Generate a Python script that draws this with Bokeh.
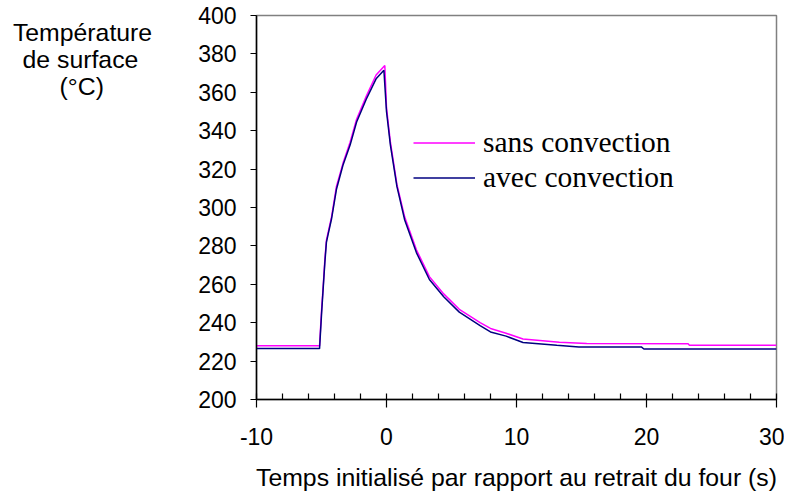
from bokeh.plotting import figure
from bokeh.models import Range1d, FixedTicker, Legend, LegendItem
from bokeh.embed import file_html
from bokeh.resources import INLINE

# --- data ---
sans_t = [-10, -5.15, -5.0, -4.87, -4.74, -4.62, -4.49, -4.23, -3.85, -3.35, -2.8, -2.3, -1.55, -0.8,
          -0.13, 0.0, 0.3, 0.8, 1.4, 2.3, 3.3, 4.4, 5.6, 7.2, 8.0, 9.2, 10.5, 13.3, 15.4, 23.2, 23.3, 30]
sans_T = [228, 228, 246, 259, 273, 283, 287, 295, 311, 323, 334, 346, 358, 369,
          374, 352, 334, 312, 295, 278, 264, 255, 247, 240, 237, 234.5, 231.5, 229.8, 229.2, 229, 228.3, 228.3]

avec_t = [-10, -5.15, -5.0, -4.87, -4.74, -4.62, -4.49, -4.23, -3.85, -3.35, -2.8, -2.3, -1.55, -0.8,
          -0.2, 0.0, 0.3, 0.8, 1.4, 2.3, 3.3, 4.4, 5.6, 7.2, 8.0, 9.2, 10.5, 13.1, 14.8, 19.6, 19.8, 30]
avec_T = [226.5, 226.5, 244, 258, 271.5, 282, 286, 294, 309.5, 322, 332.5, 344.5, 356.5, 367,
          371.5, 350, 332.5, 311, 293.5, 276.5, 262.5, 253.5, 245.5, 238.5, 235.2, 233, 229.7, 228.3, 227.4, 227.4, 226.3, 226.3]

series_names = ["sans convection", "avec convection"]
series_colors = ["#FF00FF", "#000080"]

x_ticks = [-10, 0, 10, 20, 30]
x_tick_labels = ["-10", "0", "10", "20", "30"]
x_minor = [-8, -6, -4, -2, 2, 4, 6, 8, 12, 14, 16, 18, 22, 24, 26, 28]
y_ticks = list(range(200, 401, 20))
NB = "\u00a0"
y_title_lines = ["Température", "de surface" + NB * 2, "(°C)" + NB * 7]
# the axis label block is centred on the axis: pad with blank lines below so the text sits at the top
y_title = "\n".join(y_title_lines + [NB] * 11)
x_title = "Temps initialisé par rapport au retrait du four (s)"

SANS_FONT = "Liberation Sans"
SERIF_FONT = "Liberation Serif"
FS_TICK = "23px"
FS_TITLE = "24.8px"

p = figure(frame_width=520, frame_height=384, output_backend="svg", toolbar_location=None,
           x_range=Range1d(-10, 30), y_range=Range1d(200, 400),
           min_border_left=256, min_border_top=15, min_border_right=8, min_border_bottom=88)
p.background_fill_color = "white"
p.border_fill_color = "white"
p.outline_line_color = "#808080"
p.outline_line_width = 1.5
p.xgrid.visible = False
p.ygrid.visible = False

r1 = p.line(sans_t, sans_T, line_color=series_colors[0], line_width=1.5)
r2 = p.line(avec_t, avec_T, line_color=series_colors[1], line_width=1.5)

# x axis
xa = p.xaxis[0]
xa.ticker = FixedTicker(ticks=x_ticks, minor_ticks=x_minor)
xa.major_label_overrides = {t: s for t, s in zip(x_ticks, x_tick_labels)}
xa.axis_line_color = "black"
xa.axis_line_width = 1.5
xa.major_tick_line_color = "black"
xa.major_tick_line_width = 1.2
xa.minor_tick_line_color = "black"
xa.minor_tick_line_width = 1.2
xa.major_tick_in = 6
xa.major_tick_out = 8
xa.minor_tick_in = 6
xa.minor_tick_out = 0
xa.major_label_text_font = SANS_FONT
xa.major_label_text_font_size = FS_TICK
xa.major_label_text_color = "black"
xa.major_label_standoff = 20
xa.axis_label = x_title
xa.axis_label_text_font = SANS_FONT
xa.axis_label_text_font_size = FS_TITLE
xa.axis_label_text_font_style = "normal"
xa.axis_label_text_color = "black"
xa.axis_label_standoff = 16

# y axis
ya = p.yaxis[0]
ya.ticker = FixedTicker(ticks=y_ticks, minor_ticks=[])
ya.axis_line_color = "black"
ya.axis_line_width = 1.5
ya.major_tick_line_color = "black"
ya.major_tick_line_width = 1.2
ya.major_tick_in = 0
ya.major_tick_out = 6
ya.minor_tick_in = 0
ya.minor_tick_out = 0
ya.major_label_text_font = SANS_FONT
ya.major_label_text_font_size = FS_TICK
ya.major_label_text_color = "black"
ya.major_label_standoff = 14
ya.axis_label = y_title
ya.axis_label_orientation = "horizontal"
ya.axis_label_align = "center"
ya.axis_label_standoff = 43
ya.axis_label_text_font = SANS_FONT
ya.axis_label_text_font_size = FS_TITLE
ya.axis_label_text_font_style = "normal"
ya.axis_label_text_color = "black"
ya.axis_label_text_line_height = 1.0

legend = Legend(items=[LegendItem(label=series_names[0], renderers=[r1]),
                       LegendItem(label=series_names[1], renderers=[r2])],
                location=(157, 204), padding=0, margin=0, spacing=0,
                glyph_width=62, glyph_height=35, label_height=35, label_standoff=8,
                label_text_font=SERIF_FONT, label_text_font_size="29.5px", label_text_color="black",
                border_line_alpha=0, background_fill_alpha=0)
p.add_layout(legend)

open("out.html", "w").write(file_html(p, INLINE))
